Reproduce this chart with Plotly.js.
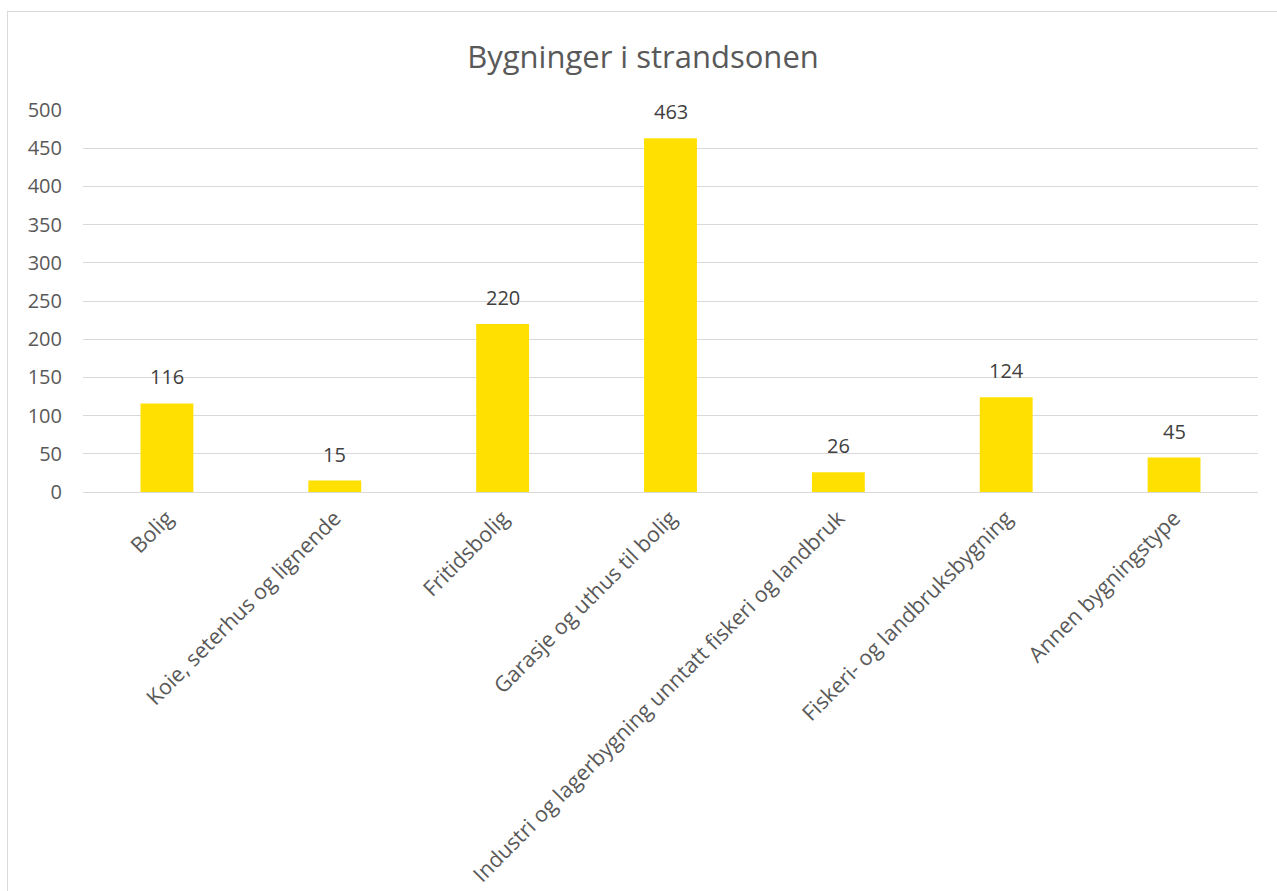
<!DOCTYPE html>
<html>
<head>
<meta charset="utf-8">
<script src="https://cdn.plot.ly/plotly-3.0.1.min.js"></script>
<style>
  html, body { margin: 0; padding: 0; background: #fff; overflow: hidden; }
  #frame { position: absolute; left: 7px; top: 11px; width: 1290px; height: 900px; border: 1px solid #d9d9d9; box-sizing: border-box; }
  #chart { position: absolute; left: 0; top: 0; }
</style>
</head>
<body>
<div id="frame"><div id="chart"></div></div>
<script>
const categories = [
  "Bolig",
  "Koie, seterhus og lignende",
  "Fritidsbolig",
  "Garasje og uthus til bolig",
  "Industri og lagerbygning unntatt fiskeri og landbruk",
  "Fiskeri- og landbruksbygning",
  "Annen bygningstype"
];
const values = [116, 15, 220, 463, 26, 124, 45];
const yTicks = [0, 50, 100, 150, 200, 250, 300, 350, 400, 450, 500];

const font = "'Open Sans', 'Noto Sans', sans-serif";
const textColor = "#595959";

const labels = categories.map((c, i) => ({
  x: c, y: values[i], xref: "x", yref: "y",
  text: String(values[i]),
  showarrow: false,
  yanchor: "bottom",
  yshift: 11,
  font: { family: font, size: 20, color: "#404040" }
}));

Plotly.newPlot("chart", [{
  type: "bar",
  x: categories,
  y: values,
  marker: { color: "#FFE000" },
  hoverinfo: "x+y"
}], {
  width: 1270,
  height: 880,
  margin: { l: 75, r: 20, t: 98, b: 400 },
  paper_bgcolor: "rgba(0,0,0,0)",
  plot_bgcolor: "rgba(0,0,0,0)",
  bargap: 0.685,
  showlegend: false,
  annotations: labels,
  title: {
    text: "Bygninger i strandsonen",
    font: { family: font, size: 31, color: textColor },
    x: 0.5, xanchor: "center",
    y: 1 - 45 / 880, yanchor: "middle"
  },
  xaxis: {
    type: "category",
    tickangle: -45,
    tickfont: { family: font, size: 21.5, color: textColor },
    showgrid: false,
    showline: true,
    linecolor: "#d9d9d9",
    linewidth: 1,
    ticks: "outside",
    ticklen: 4,
    tickcolor: "rgba(0,0,0,0)",
    automargin: false
  },
  yaxis: {
    range: [0, 500],
    tickvals: yTicks,
    ticktext: yTicks.map(String),
    tickfont: { family: font, size: 20, color: textColor },
    showgrid: true,
    gridcolor: "#d9d9d9",
    gridwidth: 1,
    zeroline: false,
    showline: false,
    ticks: "outside",
    ticklen: 16,
    tickcolor: "rgba(0,0,0,0)",
    automargin: false
  }
}, { displayModeBar: false, staticPlot: true });
</script>
</body>
</html>
